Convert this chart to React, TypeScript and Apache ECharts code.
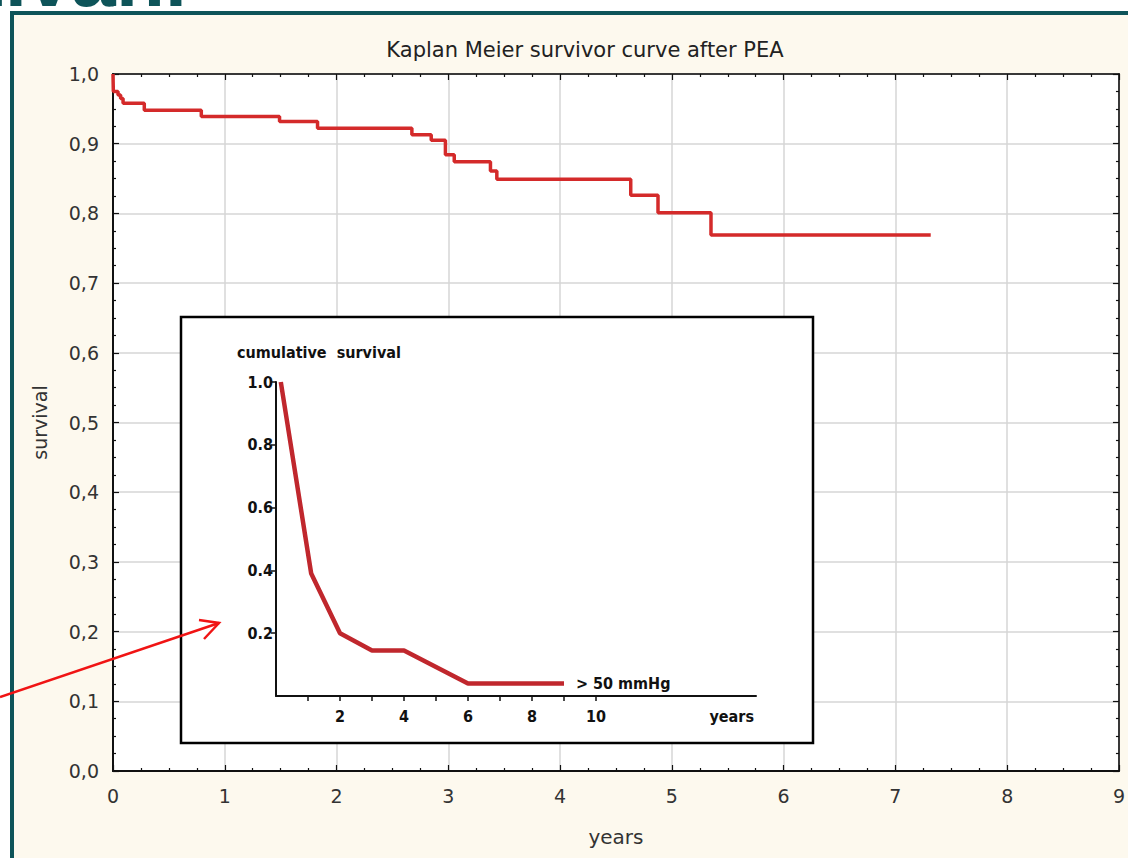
import React, { useEffect, useRef } from "react";
import * as echarts from "echarts";

// Main Kaplan-Meier curve (years after PEA, survival after each event)
const SURV_TIMES = [0, 0.003, 0.045, 0.068, 0.09, 0.28, 0.79, 1.49, 1.83, 2.674, 2.847, 2.974, 3.053, 3.377, 3.434, 4.632, 4.876, 5.35, 7.316];
const SURV_VALUES = [1.0, 0.975, 0.97, 0.965, 0.958, 0.948, 0.939, 0.932, 0.922, 0.913, 0.905, 0.884, 0.874, 0.861, 0.849, 0.826, 0.801, 0.769, 0.769];

// Inset: cumulative survival, > 50 mmHg
const INSET_YEARS = [0.15, 1.1, 2, 3, 4, 6, 9];
const INSET_SURVIVAL = [1.0, 0.39, 0.2, 0.145, 0.145, 0.04, 0.04];
const INSET_X_TICKS = [1, 2, 3, 4, 5, 6, 7, 8, 9, 10];
const INSET_X_LABELS = [2, 4, 6, 8, 10];
const INSET_Y_LABELS = [0.2, 0.4, 0.6, 0.8, 1.0];

const TITLE = "Kaplan Meier survivor curve after PEA";
const SLIDE_TITLE = "Přežívání";

const FONT = "'DejaVu Sans', 'Liberation Sans', Arial, sans-serif";
const SLIDE_FONT = "'Liberation Sans', Arial, sans-serif";
const BOLD_NARROW = "'Liberation Sans Narrow', 'DejaVu Sans Condensed', 'Liberation Sans', sans-serif";

export default function App() {
  const ref = useRef<HTMLDivElement>(null);
  useEffect(() => {
    if (!ref.current) return;
    const chart = echarts.init(ref.current, null, { renderer: "svg" });
    const mainData = SURV_TIMES.map((t, i) => [t, SURV_VALUES[i]]);
    const insetData = INSET_YEARS.map((t, i) => [t, INSET_SURVIVAL[i]]);
    const commaFmt = (v: number) => v.toFixed(1).replace(".", ",");
    const tickLine = { color: "#111", width: 1.2 };

    const option: any = {
      animation: false,
      backgroundColor: "#ffffff",
      title: {
        text: TITLE,
        left: 580,
        top: 34,
        textAlign: "center",
        textStyle: { fontFamily: FONT, fontSize: 21, fontWeight: "normal", color: "#222" },
      },
      grid: [
        { left: 113, top: 74, width: 1013, height: 697, show: true, backgroundColor: "#ffffff", borderColor: "#111", borderWidth: 1.5, containLabel: false },
        { left: 276, top: 382, width: 480, height: 314, show: false, containLabel: false },
      ],
      xAxis: [
        {
          type: "value", gridIndex: 0, min: 0, max: 9, interval: 1, position: "bottom",
          name: "years", nameLocation: "middle", nameGap: 56,
          nameTextStyle: { fontFamily: FONT, fontSize: 20, color: "#333" },
          axisLine: { show: true, onZero: false, lineStyle: { color: "#111", width: 2 } },
          axisTick: { show: true, inside: true, length: 6, lineStyle: tickLine },
          minorTick: { show: true, splitNumber: 4, length: 3, lineStyle: tickLine },
          axisLabel: { fontFamily: FONT, fontSize: 19, color: "#333", margin: 15 },
          splitLine: { show: true, lineStyle: { color: "#d6d6d6", width: 1.5 } },
        },
        {
          type: "value", gridIndex: 0, min: 0, max: 9, interval: 1, position: "top",
          axisLine: { show: true, onZero: false, lineStyle: { color: "#111", width: 1.5 } },
          axisTick: { show: true, inside: true, length: 6, lineStyle: tickLine },
          minorTick: { show: true, splitNumber: 4, length: 3, lineStyle: tickLine },
          axisLabel: { show: false },
          splitLine: { show: false },
        },
        {
          type: "value", gridIndex: 1, min: 0, max: 15, interval: 1, position: "bottom", z: 60,
          name: "years", nameLocation: "end", nameGap: -2,
          nameTextStyle: { fontFamily: BOLD_NARROW, fontWeight: "bold", fontSize: 16, color: "#111", align: "right", verticalAlign: "top", padding: [12, 0, 0, 0] },
          axisLine: { show: true, onZero: false, lineStyle: { color: "#111", width: 2 } },
          axisTick: { show: true, inside: false, length: 5, customValues: INSET_X_TICKS, lineStyle: { color: "#111", width: 1.5 } },
          axisLabel: { fontFamily: BOLD_NARROW, fontWeight: "bold", fontSize: 16, color: "#111", margin: 12, customValues: INSET_X_LABELS },
          splitLine: { show: false },
        },
      ],
      yAxis: [
        {
          type: "value", gridIndex: 0, min: 0, max: 1, interval: 0.1, position: "left",
          name: "survival", nameLocation: "middle", nameGap: 64, nameRotate: 90,
          nameTextStyle: { fontFamily: FONT, fontSize: 19, color: "#333" },
          axisLine: { show: true, onZero: false, lineStyle: { color: "#111", width: 2 } },
          axisTick: { show: true, inside: true, length: 6, lineStyle: tickLine },
          minorTick: { show: true, splitNumber: 4, length: 3, lineStyle: tickLine },
          axisLabel: { fontFamily: FONT, fontSize: 19, color: "#333", margin: 14, formatter: commaFmt },
          splitLine: { show: true, lineStyle: { color: "#d6d6d6", width: 1.5 } },
        },
        {
          type: "value", gridIndex: 0, min: 0, max: 1, interval: 0.1, position: "right",
          axisLine: { show: true, onZero: false, lineStyle: { color: "#111", width: 1.5 } },
          axisTick: { show: true, inside: true, length: 6, lineStyle: tickLine },
          minorTick: { show: true, splitNumber: 4, length: 3, lineStyle: tickLine },
          axisLabel: { show: false },
          splitLine: { show: false },
        },
        {
          type: "value", gridIndex: 1, min: 0, max: 1, interval: 0.2, position: "left", z: 60,
          axisLine: { show: true, onZero: false, lineStyle: { color: "#111", width: 2 } },
          axisTick: { show: true, inside: false, length: 5, customValues: INSET_Y_LABELS, lineStyle: { color: "#111", width: 1.5 } },
          axisLabel: { fontFamily: BOLD_NARROW, fontWeight: "bold", fontSize: 16, color: "#111", margin: 3, customValues: INSET_Y_LABELS, formatter: (v: number) => v.toFixed(1) },
          splitLine: { show: false },
        },
      ],
      graphic: [
        { type: "rect", z: -5, shape: { x: 12, y: 13, width: 1300, height: 1000 }, style: { fill: "#fdf9ee", stroke: "#0e5459", lineWidth: 4 }, silent: true },
        {
          type: "text", z: -4, x: 187, y: -22,
          style: { text: SLIDE_TITLE, fontFamily: SLIDE_FONT, fontWeight: "bold", fontSize: 80, fill: "#0e5459", align: "right", verticalAlign: "middle" },
          silent: true,
        },
        { type: "rect", z: 50, shape: { x: 181, y: 317, width: 632, height: 426 }, style: { fill: "#ffffff", stroke: "#000", lineWidth: 2.5 }, silent: true },
        {
          type: "text", z: 62, x: 237, y: 352,
          style: { text: "cumulative  survival", fontFamily: BOLD_NARROW, fontWeight: "bold", fontSize: 16, fill: "#111", align: "left", verticalAlign: "middle" },
          silent: true,
        },
        { type: "line", z: 70, shape: { x1: 0, y1: 697, x2: 219, y2: 623 }, style: { stroke: "#f01414", lineWidth: 2.5 }, silent: true },
        { type: "polyline", z: 70, shape: { points: [[199, 620], [219, 623], [204, 639]] }, style: { stroke: "#f01414", lineWidth: 2.5, fill: null }, silent: true },
      ],
      series: [
        {
          type: "line", xAxisIndex: 0, yAxisIndex: 0, data: mainData, step: "end",
          showSymbol: false, symbol: "none", z: 3,
          lineStyle: { color: "#d42a2a", width: 3.5 },
        },
        {
          type: "line", xAxisIndex: 2, yAxisIndex: 2, data: insetData,
          showSymbol: false, symbol: "none", z: 61,
          lineStyle: { color: "#c0272d", width: 4.5 },
          endLabel: { show: true, formatter: "> 50 mmHg", distance: 12, fontFamily: BOLD_NARROW, fontWeight: "bold", fontSize: 16, color: "#111" },
        },
      ],
    };
    chart.setOption(option);
    return () => chart.dispose();
  }, []);
  return <div ref={ref} style={{ position: "fixed", left: 0, top: 0, width: 1128, height: 858 }} />;
}
